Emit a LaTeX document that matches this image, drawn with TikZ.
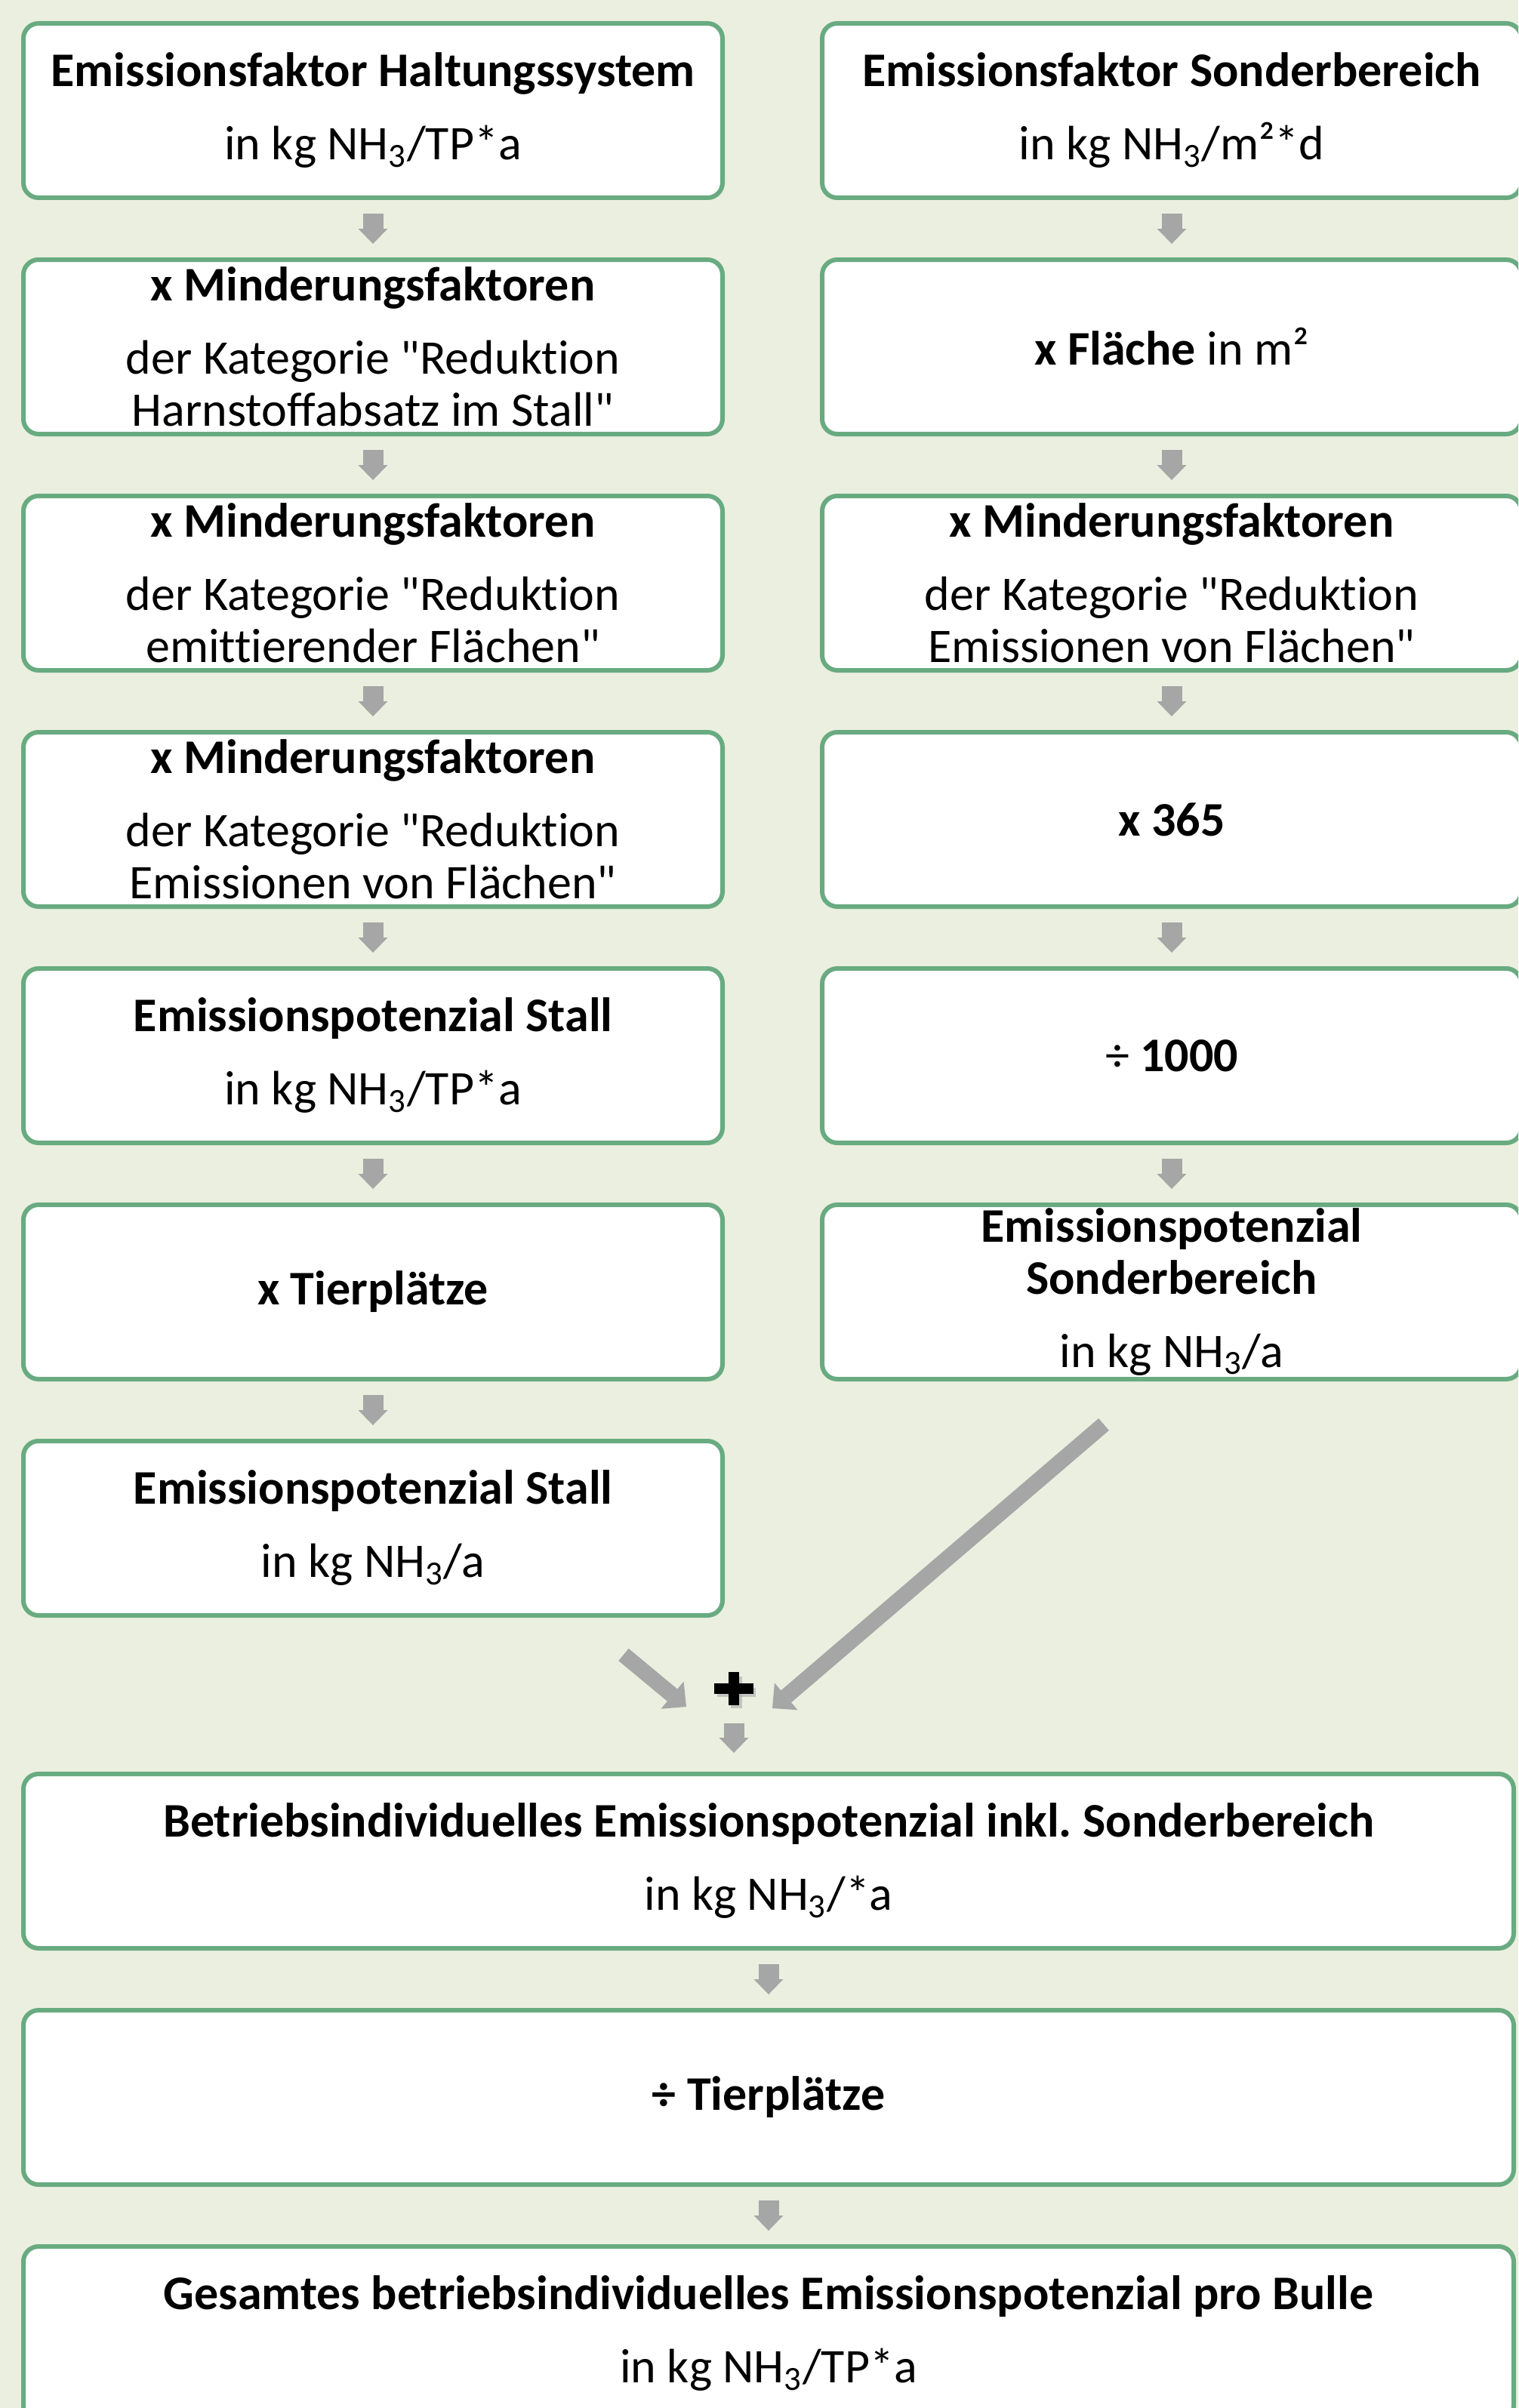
\documentclass[tikz,border=0pt]{standalone}
\usepackage{fontspec}
\setmainfont{Carlito}[Ligatures={TeXOff,NoCommon}]
\usepackage{tikz}
\usetikzlibrary{arrows.meta,positioning}
\definecolor{bggreen}{HTML}{EBEFDF}
\definecolor{framegreen}{HTML}{69AB81}
\definecolor{arrowgray}{HTML}{A6A6A6}
\frenchspacing

\begin{document}
\begin{tikzpicture}[node distance=8.2mm and 13.2mm, every node/.style={font=\fontsize{18.2}{19.6}\selectfont},
    box/.style={draw=framegreen, line width=0.6mm, fill=white, rounded corners=2mm, minimum width=92.6mm, minimum height=23.1mm, inner sep=0pt, outer sep=0pt, align=center},
    widebox/.style={box, minimum width=197.4mm},
    garrow/.style={draw=arrowgray, line width=2.7mm, -{Triangle[width=3.9mm, length=2mm, line width=0pt]}, shorten <=2.1mm, shorten >=2.1mm},
    diagarrow/.style={draw=arrowgray, line width=2.1mm, -{Triangle[width=4.7mm, length=2.4mm, line width=0pt]}}]
        \clip (0,0) rectangle (20.11,-31.90);
        \fill[bggreen] (0,0) rectangle (20.11,-31.90);
        % Stall
        \node[box] (hs) at (4.94,-1.465) {\textbf{Emissionsfaktor Haltungssystem}\\[8pt] in kg NH\textsubscript{3}/TP*a};
        \node[box, below=of hs] (mfharn) {\textbf{x Minderungsfaktoren}\\[8pt] der Kategorie "Reduktion\\ Harnstoffabsatz im Stall"};
        \node[box, below=of mfharn] (mfemit) {\textbf{x Minderungsfaktoren}\\[8pt] der Kategorie "Reduktion\\ emittierender Flächen"};
        \node[box, below=of mfemit] (mfflaeche) {\textbf{x Minderungsfaktoren}\\[8pt] der Kategorie "Reduktion\\ Emissionen von Flächen"};
        \node[box, below=of mfflaeche] (epstall) {\textbf{Emissionspotenzial Stall}\\[8pt] in kg NH\textsubscript{3}/TP*a};
        \node[box, below=of epstall] (tierpl) {\textbf{x Tierplätze}};
        \node[box, below=of tierpl] (epstallges) {\textbf{Emissionspotenzial Stall}\\[8pt] in kg NH\textsubscript{3}/a};
        % Sonderbereich
        \node[box, right=of hs] (sb) {\textbf{Emissionsfaktor Sonderbereich}\\[8pt] in kg NH\textsubscript{3}/m²*d};
        \node[box, below=of sb] (flaeche) {\textbf{x Fläche} in m²};
        \node[box, below=of flaeche] (mfsb) {\textbf{x Minderungsfaktoren}\\[8pt] der Kategorie "Reduktion\\ Emissionen von Flächen"};
        \node[box, below=of mfsb] (tage) {\textbf{x 365}};
        \node[box, below=of tage] (durch) {÷ \textbf{1000}};
        \node[box, below=of durch] (epsb) {\textbf{Emissionspotenzial}\\ \textbf{Sonderbereich}\\[8pt] in kg NH\textsubscript{3}/a};
        % Summe
        \node[widebox, below=21mm of epstallges.south west, anchor=north west] (epbetrieb) {\textbf{Betriebsindividuelles Emissionspotenzial inkl. Sonderbereich}\\[8pt] in kg NH\textsubscript{3}/*a};
        \node[widebox, below=of epbetrieb] (durchtp) {\textbf{÷ Tierplätze}};
        \node[widebox, below=of durchtp] (epbulle) {\textbf{Gesamtes betriebsindividuelles Emissionspotenzial pro Bulle}\\[8pt] in kg NH\textsubscript{3}/TP*a};
        \node[minimum width=5mm, minimum height=4.2mm, inner sep=0pt] (plus) at (9.72,-22.37) {};
        \fill[black!30, opacity=0.7] ([shift={(-2.2mm,-1.1mm)}]plus.center) rectangle ([shift={(2.9mm,0.1mm)}]plus.center);
        \fill[black!30, opacity=0.7] ([shift={(-0.4mm,-2.6mm)}]plus.center) rectangle ([shift={(1.1mm,1.6mm)}]plus.center);
        \fill[black] ([yshift=-0.7mm]plus.west) rectangle ([yshift=0.7mm]plus.east);
        \fill[black] ([xshift=-0.7mm]plus.south) rectangle ([xshift=0.7mm]plus.north);
        \coordinate (stalltail) at ([xshift=33.2mm, yshift=-5.2mm]epstallges.south);
        \coordinate (sbtail) at ([xshift=-9mm, yshift=-6mm]epsb.south);
        \coordinate (plusleft) at ([xshift=-6.3mm, yshift=-2.4mm]plus.center);
        \coordinate (plusright) at ([xshift=5.1mm, yshift=-2.6mm]plus.center);
        \foreach \x/\y in {hs/mfharn,mfharn/mfemit,mfemit/mfflaeche,mfflaeche/epstall,epstall/tierpl,tierpl/epstallges,sb/flaeche,flaeche/mfsb,mfsb/tage,tage/durch,durch/epsb,epbetrieb/durchtp,durchtp/epbulle}{\draw[garrow] (\x) -- (\y);}
        \draw[diagarrow] (stalltail) -- (plusleft);
        \draw[diagarrow] (sbtail) -- (plusright);
        \draw[garrow, shorten <=2.4mm, shorten >=2.8mm] (plus.south) -- (plus.south |- epbetrieb.north);
      \end{tikzpicture}
\end{document}
